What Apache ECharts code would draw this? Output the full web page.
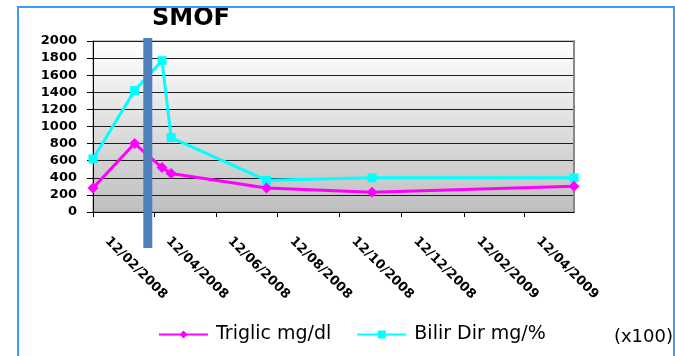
<!DOCTYPE html>
<html>
<head>
<meta charset="utf-8">
<script src="https://cdn.jsdelivr.net/npm/echarts@6/dist/echarts.min.js"></script>
<style>
    html, body { margin: 0; padding: 0; background: #fff; }
    #main { width: 675px; height: 356px; }
</style>
</head>
<body>
<div id="main"></div>
<script>
// dates of the measurements (dd/mm/yyyy on the axis)
var dates = ['2008-02-12', '2008-03-24', '2008-04-20', '2008-04-29', '2008-08-01', '2008-11-13', '2009-05-31'];
var triglic = [280, 800, 520, 450, 280, 230, 300];
var bilirDir = [620, 1420, 1770, 870, 370, 400, 400];
var tickDates = ['2008-02-12', '2008-04-12', '2008-06-12', '2008-08-12', '2008-10-12', '2008-12-12', '2009-02-12', '2009-04-12'];
var smofDates = ['2008-04-06'];
var seriesNames = ['Triglic mg/dl', 'Bilir Dir mg/%'];

function toTime(s) {
    var p = s.split('-');
    return new Date(+p[0], +p[1] - 1, +p[2]).getTime();
}
function fmtDate(v) {
    var d = new Date(v);
    var dd = ('0' + d.getDate()).slice(-2);
    var mm = ('0' + (d.getMonth() + 1)).slice(-2);
    return dd + '/' + mm + '/' + d.getFullYear();
}
function pairs(vals) {
    return dates.map(function (s, i) { return [toTime(s), vals[i]]; });
}

var myChart = echarts.init(document.getElementById('main'));
var ticks = tickDates.map(toTime);

var option = {
    animation: false,
    title: {
        text: 'SMOF',
        left: 152,
        top: 7,
        padding: 0,
        textStyle: { fontFamily: 'DejaVu Sans', fontWeight: 'bold', fontSize: 24, color: '#000' }
    },
    legend: {
        data: seriesNames,
        left: 158,
        top: 325,
        padding: 0,
        itemWidth: 49,
        itemHeight: 10,
        itemGap: 25,
        textStyle: { fontFamily: 'DejaVu Sans', fontSize: 19, color: '#000', padding: [0, 0, 0, 3] }
    },
    grid: {
        left: 93, right: 101, top: 41, bottom: 144,
        show: true,
        borderColor: '#8c8c8c',
        borderWidth: 1,
        backgroundColor: new echarts.graphic.LinearGradient(0, 0, 0, 1, [
            { offset: 0, color: '#ffffff' },
            { offset: 1, color: '#bfbfbf' }
        ])
    },
    xAxis: {
        type: 'value',
        min: toTime(dates[0]),
        max: toTime(dates[dates.length - 1]),
        axisLine: { show: true, lineStyle: { color: '#000', width: 1 } },
        axisTick: { show: true, length: 5, customValues: ticks, lineStyle: { color: '#000' } },
        splitLine: { show: false },
        axisLabel: {
            customValues: ticks,
            rotate: -45,
            margin: 13,
            padding: [0, 0, 0, 20],
            formatter: function (v) { return fmtDate(v); },
            fontFamily: 'DejaVu Sans',
            fontWeight: 'bold',
            fontSize: 13,
            color: '#000'
        }
    },
    yAxis: [{
        type: 'value',
        min: 0,
        max: 2000,
        interval: 200,
        axisLine: { show: true, lineStyle: { color: '#000', width: 1 } },
        axisTick: { show: true, length: 6, lineStyle: { color: '#000' } },
        splitLine: { show: true, lineStyle: { color: '#1e1e1e', width: 1 } },
        axisLabel: {
            margin: 16,
            formatter: function (v) { return String(v); },
            fontFamily: 'DejaVu Sans',
            fontWeight: 'bold',
            fontSize: 13,
            color: '#000'
        }
    }, {
        type: 'value',
        position: 'right',
        min: 0,
        max: 2000,
        axisLine: { show: true, lineStyle: { color: '#888', width: 2 } },
        axisTick: { show: false },
        axisLabel: { show: false },
        splitLine: { show: false }
    }],
    series: [{
        name: seriesNames[0],
        type: 'line',
        data: pairs(triglic),
        symbol: 'diamond',
        symbolSize: 11,
        showAllSymbol: true,
        itemStyle: { color: '#ff00ff' },
        lineStyle: { color: '#ff00ff', width: 3 },
        z: 3
    }, {
        name: seriesNames[1],
        type: 'line',
        data: pairs(bilirDir),
        symbol: 'rect',
        symbolSize: 9,
        showAllSymbol: true,
        itemStyle: { color: '#00ffff' },
        lineStyle: { color: '#00ffff', width: 3 },
        z: 2
    }]
};
myChart.setOption(option);

// SMOF marker bar and frame, placed through the axis scale
var graphics = smofDates.map(function (s) {
    var x = myChart.convertToPixel({ xAxisIndex: 0 }, toTime(s));
    return {
        type: 'rect',
        shape: { x: x - 4.5, y: 38, width: 9, height: 210 },
        style: { fill: '#4f81bd' },
        z: 100
    };
});
graphics.push({
    type: 'rect',
    shape: { x: 18, y: 7, width: 656, height: 360 },
    style: { fill: 'none', stroke: '#3d9bff', lineWidth: 2 },
    z: 100
});
graphics.push({
    type: 'text',
    x: 673,
    y: 337,
    style: {
        text: '(x100)',
        font: '18px "DejaVu Sans"',
        fill: '#000',
        textAlign: 'right',
        textVerticalAlign: 'middle'
    },
    z: 100
});
myChart.setOption({ graphic: graphics });
</script>
</body>
</html>
